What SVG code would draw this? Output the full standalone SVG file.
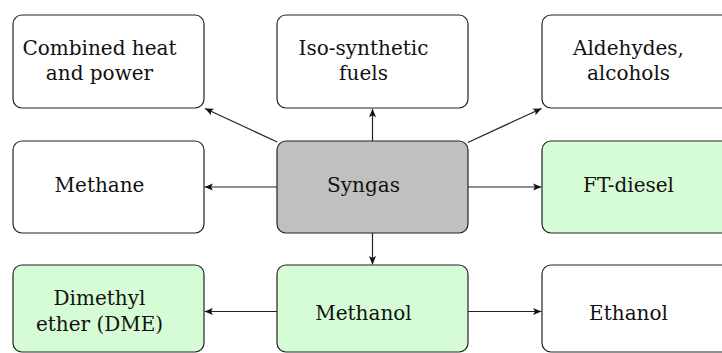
<svg xmlns="http://www.w3.org/2000/svg" width="722" height="353" viewBox="0 0 722 353">
  <style>
    .box { stroke: #222; stroke-width: 1.2; }
    .plain { fill: #ffffff; }
    .hub { fill: #c0c0c0; }
    .prod { fill: #d5fcd5; }
    .lbl { font-family: "DejaVu Serif", "Liberation Serif", serif; font-size: 20px; fill: #111; text-anchor: middle; }
    .edge { stroke: #222; stroke-width: 1.2; fill: none; marker-end: url(#tip); }
  </style>
  <defs>
    <marker id="tip" markerUnits="userSpaceOnUse" markerWidth="10" markerHeight="10" viewBox="-8 -4 9 8" refX="0" refY="0" orient="auto">
      <path d="M0,0 L-7.5,-3.2 L-5.8,0 L-7.5,3.2 Z" fill="#111"/>
    </marker>
  </defs>

  <rect width="722" height="353" fill="#ffffff"/>

  <g id="connectors">
    <line class="edge" x1="277.2" y1="142" x2="205" y2="108.5"/>
    <line class="edge" x1="372.5" y1="141" x2="372.5" y2="108.8"/>
    <line class="edge" x1="467.8" y1="142.5" x2="541.5" y2="108.5"/>
    <line class="edge" x1="277" y1="187" x2="204.6" y2="187"/>
    <line class="edge" x1="468" y1="187" x2="541.4" y2="187"/>
    <line class="edge" x1="372.5" y1="233" x2="372.5" y2="264.4"/>
    <line class="edge" x1="277" y1="311.5" x2="204.6" y2="311.5"/>
    <line class="edge" x1="468" y1="311.5" x2="541.4" y2="311.5"/>
  </g>

  <g id="chp">
    <rect class="box plain" x="13" y="15" width="191" height="93" rx="9"/>
    <text class="lbl" x="99.5" y="55">Combined heat</text>
    <text class="lbl" x="99.5" y="80">and power</text>
  </g>
  <g id="iso-fuels">
    <rect class="box plain" x="277" y="15" width="191" height="93" rx="9"/>
    <text class="lbl" x="363.5" y="55">Iso-synthetic</text>
    <text class="lbl" x="363.5" y="80">fuels</text>
  </g>
  <g id="aldehydes">
    <rect class="box plain" x="542" y="15" width="191" height="93" rx="9"/>
    <text class="lbl" x="628.5" y="55">Aldehydes,</text>
    <text class="lbl" x="628.5" y="80">alcohols</text>
  </g>

  <g id="methane">
    <rect class="box plain" x="13" y="141" width="191" height="92" rx="9"/>
    <text class="lbl" x="99.5" y="192">Methane</text>
  </g>
  <g id="syngas">
    <rect class="box hub" x="277" y="141" width="191" height="92" rx="9"/>
    <text class="lbl" x="363.5" y="192">Syngas</text>
  </g>
  <g id="ft-diesel">
    <rect class="box prod" x="542" y="141" width="191" height="92" rx="9"/>
    <text class="lbl" x="628.5" y="192">FT-diesel</text>
  </g>

  <g id="dme">
    <rect class="box prod" x="13" y="265" width="191" height="87" rx="9"/>
    <text class="lbl" x="99.5" y="305">Dimethyl</text>
    <text class="lbl" x="99.5" y="331">ether (DME)</text>
  </g>
  <g id="methanol">
    <rect class="box prod" x="277" y="265" width="191" height="87" rx="9"/>
    <text class="lbl" x="363.5" y="320">Methanol</text>
  </g>
  <g id="ethanol">
    <rect class="box plain" x="542" y="265" width="191" height="87" rx="9"/>
    <text class="lbl" x="628.5" y="320">Ethanol</text>
  </g>
</svg>
